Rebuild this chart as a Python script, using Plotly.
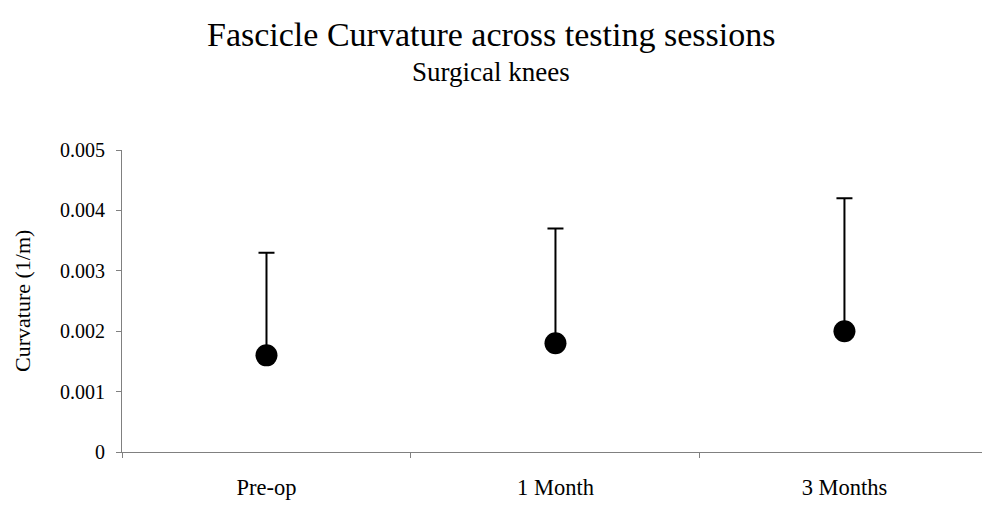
import plotly.graph_objects as go

categories = ["Pre-op", "1 Month", "3 Months"]
means = [0.0016, 0.0018, 0.0020]
upper = [0.0033, 0.0037, 0.0042]
y_ticks = [0, 0.001, 0.002, 0.003, 0.004, 0.005]
y_tick_labels = ["0", "0.001", "0.002", "0.003", "0.004", "0.005"]

err_plus = [u - m for u, m in zip(upper, means)]
err_minus = [0 for _ in means]

W, H = 982, 506
L, R, T, B = 122, 0, 150, 54
pw, ph = W - L - R, H - T - B

def px_x(x):
    return (x - L) / pw

def px_y(y):
    return (H - B - y) / ph

FONT = "Liberation Serif, Times New Roman, serif"

fig = go.Figure()
fig.add_trace(go.Scatter(
    x=categories, y=means, mode="markers",
    marker=dict(size=22, color="black"),
    error_y=dict(type="data", symmetric=False, array=err_plus, arrayminus=err_minus,
                 thickness=2, width=8, color="black"),
    showlegend=False,
))

fig.update_layout(
    width=W, height=H,
    margin=dict(l=L, r=R, t=T, b=B),
    paper_bgcolor="white", plot_bgcolor="white",
    font=dict(family=FONT, color="black"),
    xaxis=dict(type="category", range=[-0.5, 2.476], tickson="boundaries",
               showline=True, linecolor="#808080", linewidth=1,
               ticks="outside", ticklen=5, tickcolor="#808080",
               showgrid=False, zeroline=False, ticklabelstandoff=15,
               tickfont=dict(size=22.5, family=FONT, color="black")),
    yaxis=dict(range=[0, 0.005], tickvals=y_ticks, ticktext=y_tick_labels,
               showline=True, linecolor="#808080", linewidth=1,
               ticks="outside", ticklen=5, tickcolor="#808080",
               showgrid=False, zeroline=False, ticklabelstandoff=7,
               tickfont=dict(size=20, family=FONT, color="black")),
    annotations=[
        dict(text="Fascicle Curvature across testing sessions", xref="paper", yref="paper",
             x=px_x(491), y=px_y(35), xanchor="center", yanchor="middle", showarrow=False,
             font=dict(size=34, family=FONT, color="black")),
        dict(text="Surgical knees", xref="paper", yref="paper",
             x=px_x(491), y=px_y(72), xanchor="center", yanchor="middle", showarrow=False,
             font=dict(size=27, family=FONT, color="black")),
        dict(text="Curvature (1/m)", xref="paper", yref="paper", textangle=-90,
             x=px_x(22), y=px_y(301), xanchor="center", yanchor="middle", showarrow=False,
             font=dict(size=22, family=FONT, color="black")),
    ],
)

fig.write_html("out.html", config={"displayModeBar": False},
               post_script="document.body.style.margin='0';document.body.style.overflow='hidden';")
